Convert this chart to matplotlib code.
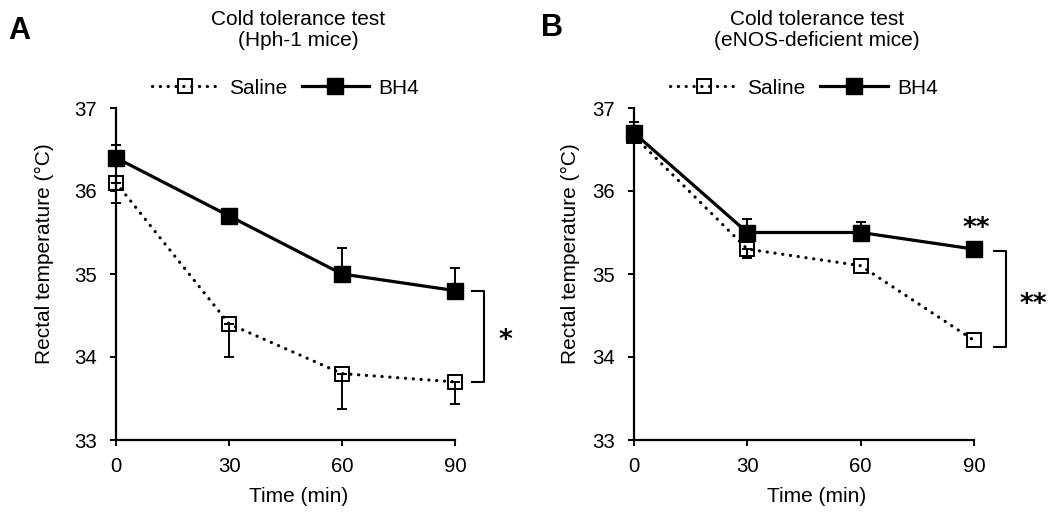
import numpy as np
import matplotlib
matplotlib.use('Agg')
import matplotlib.pyplot as plt

plt.rcParams['font.family'] = ['Liberation Sans', 'DejaVu Sans']

# data
time_min = [0, 30, 60, 90]

# panel A (Hph-1 mice)
a_saline = [36.1, 34.4, 33.8, 33.7]
a_saline_err = [0.24, 0.40, 0.43, 0.27]
a_bh4 = [36.4, 35.7, 35.0, 34.8]
a_bh4_err = [0.15, 0.0, 0.31, 0.27]

# panel B (eNOS-deficient mice)
b_saline = [36.66, 35.3, 35.1, 34.2]
b_saline_err = [0.0, 0.11, 0.0, 0.0]
b_bh4 = [36.7, 35.5, 35.5, 35.3]
b_bh4_err = [0.13, 0.16, 0.13, 0.0]

titles = ['Cold tolerance test\n(Hph-1 mice)', 'Cold tolerance test\n(eNOS-deficient mice)']
letters = ['A', 'B']
y_ticks = [33, 34, 35, 36, 37]
x_ticks = [0, 30, 60, 90]

FS = 15
W, H = 1052, 513

fig = plt.figure(figsize=(W / 100, H / 100), dpi=100)


def fx(px):
	return px / W


def fy(py):
	return 1 - py / H


def err_bars(ax, y, err, upper, z):
	# only the points that show a bar in the reference
	idx = [i for i in range(len(y)) if err[i] > 0]
	xs = [time_min[i] for i in idx]
	ys = [y[i] for i in idx]
	es = [err[i] for i in idx]
	zero = [0] * len(idx)
	yerr = [zero, es] if upper else [es, zero]
	ax.errorbar(xs, ys, yerr=yerr, fmt='none', ecolor='black', elinewidth=1.4,
				capsize=3.8, capthick=1.4, clip_on=False, zorder=z)


def draw_panel(left_px, right_px, saline, saline_err, bh4, bh4_err):
	ax = fig.add_axes([fx(left_px), fy(440), fx(right_px - left_px), fy(108) - fy(440)])
	dotted = (0, (0.05, 2.4))
	# saline: open squares, dotted line, lower error bars
	err_bars(ax, saline, saline_err, False, 2)
	ls, = ax.plot(time_min, saline, color='black', lw=2.3, linestyle=dotted,
				  dash_capstyle='round', marker='s', ms=9.5, mfc='none', mec='black',
				  mew=1.4, clip_on=False, zorder=3, label='Saline')
	# BH4: filled squares, solid line, upper error bars
	err_bars(ax, bh4, bh4_err, True, 4)
	lb, = ax.plot(time_min, bh4, color='black', lw=2.3, marker='s', ms=11,
				  mfc='black', mec='black', clip_on=False, zorder=5, label='BH4')

	ax.set_xlim(0, 90)
	ax.set_ylim(33, 37)
	ax.set_xticks(x_ticks)
	ax.set_yticks(y_ticks)
	ax.spines['top'].set_visible(False)
	ax.spines['right'].set_visible(False)
	for s in ['left', 'bottom']:
		ax.spines[s].set_linewidth(1.6)
	ax.tick_params(axis='both', direction='out', length=4.5, width=1.4, labelsize=14.7)
	ax.tick_params(axis='y', pad=9)
	ax.tick_params(axis='x', pad=8)
	ax.patch.set_alpha(0)

	cx = fx((left_px + right_px) / 2)
	fig.legend(handles=[ls, lb], loc='center', bbox_to_anchor=(cx, fy(88)), ncol=2,
			   frameon=False, fontsize=FS, handlelength=3.25, handletextpad=0.45,
			   columnspacing=0.7, borderpad=0, numpoints=1)
	return ax


ax_a = draw_panel(116, 455, a_saline, a_saline_err, a_bh4, a_bh4_err)
ax_b = draw_panel(634, 974, b_saline, b_saline_err, b_bh4, b_bh4_err)

# titles, axis labels, panel letters
for left_px, right_px, title, ylab_x, letter, lx, ly in [
		(116, 455, titles[0], 44, letters[0], 8, 31),
		(634, 974, titles[1], 570, letters[1], 541, 28)]:
	cxp = (left_px + right_px) / 2 + 13
	fig.text(fx(cxp), fy(30), title, ha='center', va='center', fontsize=FS, linespacing=1.15)
	fig.text(fx(cxp), fy(497), 'Time (min)', ha='center', va='center', fontsize=FS)
	fig.text(fx(ylab_x), fy(254), 'Rectal temperature (°C)', ha='center', va='center',
			 rotation=90, fontsize=FS)
	fig.text(fx(lx), fy(ly), letter, ha='left', va='center', fontsize=22, fontweight='bold')

# significance brackets
star = dict(ha='center', va='center', fontsize=19, family='DejaVu Sans', fontweight='bold')
ax_a.plot([94.5, 97.7, 97.7, 94.5], [34.8, 34.8, 33.7, 33.7], color='black', lw=1.5, clip_on=False)
ax_a.text(103.5, 34.19, '*', **star)

ax_b.plot([95.2, 98.4, 98.4, 95.2], [35.28, 35.28, 34.12, 34.12], color='black', lw=1.5, clip_on=False)
ax_b.text(105.8, 34.63, '**', **star)
ax_b.text(90.5, 35.54, '**', **star)

fig.savefig('out.png', dpi=100)
plt.close()
